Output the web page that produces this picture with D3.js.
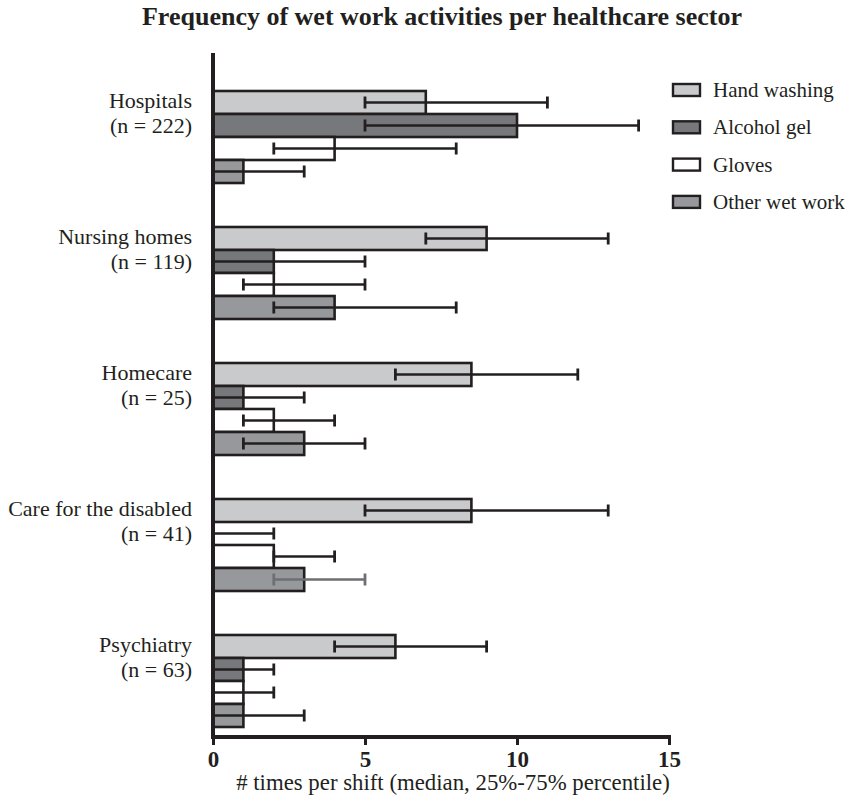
<!DOCTYPE html>
<html>
<head>
<meta charset="utf-8">
<script src="https://cdn.jsdelivr.net/npm/d3@7"></script>
<style>
  html, body { margin: 0; padding: 0; background: #fff; }
  svg { display: block; }
  text { font-family: "Liberation Serif", "Times New Roman", serif; fill: #231f20; }
</style>
</head>
<body>
<svg id="chart" width="851" height="801"></svg>
<script>
// Healthcare sectors and number of respondents
const sectors = ["Hospitals", "Nursing homes", "Homecare", "Care for the disabled", "Psychiatry"];
const respondents = [222, 119, 25, 41, 63];

// Wet work activities
const activities = ["Hand washing", "Alcohol gel", "Gloves", "Other wet work"];

// Median times per shift, with 25th and 75th percentiles (one entry per sector)
const handWashingMedian = [7, 9, 8.5, 8.5, 6];
const handWashingP25 = [5, 7, 6, 5, 4];
const handWashingP75 = [11, 13, 12, 13, 9];

const alcoholGelMedian = [10, 2, 1, 0, 1];
const alcoholGelP25 = [5, 0, 0, 0, 0];
const alcoholGelP75 = [14, 5, 3, 2, 2];

const glovesMedian = [4, 2, 2, 2, 1];
const glovesP25 = [2, 1, 1, 2, 0];
const glovesP75 = [8, 5, 4, 4, 2];

const otherMedian = [1, 4, 3, 3, 1];
const otherP25 = [0, 2, 1, 2, 0];
const otherP75 = [3, 8, 5, 5, 3];

const xTicks = [0, 5, 10, 15];

const fills = {
  "Hand washing": "#c9cacc",
  "Alcohol gel": "#77787b",
  "Gloves": "#ffffff",
  "Other wet work": "#97989b"
};
const ink = "#231f20";

const seriesValues = {
  "Hand washing": [handWashingMedian, handWashingP25, handWashingP75],
  "Alcohol gel": [alcoholGelMedian, alcoholGelP25, alcoholGelP75],
  "Gloves": [glovesMedian, glovesP25, glovesP75],
  "Other wet work": [otherMedian, otherP25, otherP75]
};

const rows = [];
sectors.forEach((s, i) => {
  activities.forEach(a => {
    const [m, lo, hi] = seriesValues[a];
    rows.push({ sector: s, activity: a, median: m[i], p25: lo[i], p75: hi[i] });
  });
});

const svg = d3.select("#chart");

const x = d3.scaleLinear().domain([0, 15]).range([213, 669]);
const y = d3.scaleBand().domain(sectors).range([69, 749])
  .paddingInner(0.3235).paddingOuter(0.1618);
const ySub = d3.scaleBand().domain(activities).range([0, y.bandwidth()]);

// Title
svg.append("text")
  .attr("x", 442).attr("y", 25)
  .attr("text-anchor", "middle")
  .attr("font-size", 26).attr("font-weight", "bold")
  .text("Frequency of wet work activities per healthcare sector");

// Bars
const groups = svg.append("g").selectAll("g")
  .data(sectors).join("g")
  .attr("transform", d => `translate(0,${y(d)})`);

groups.selectAll("rect")
  .data(s => rows.filter(r => r.sector === s && r.median > 0))
  .join("rect")
  .attr("x", x(0))
  .attr("y", d => ySub(d.activity))
  .attr("width", d => x(d.median) - x(0))
  .attr("height", ySub.bandwidth())
  .attr("fill", d => fills[d.activity])
  .attr("stroke", ink)
  .attr("stroke-width", 2.6);

// Interquartile whiskers
const capH = 12;
const whiskers = groups.selectAll("g.whisker")
  .data(s => rows.filter(r => r.sector === s))
  .join("g")
  .attr("class", "whisker")
  .attr("stroke", d => (d.sector === "Care for the disabled" && d.activity === "Other wet work") ? "#6e6f72" : ink)
  .attr("transform", d => `translate(0,${ySub(d.activity) + ySub.bandwidth() / 2})`);

whiskers.append("line")
  .attr("x1", d => x(d.p25)).attr("x2", d => x(d.p75))
  .attr("y1", 0).attr("y2", 0)
  .attr("stroke-width", 2.4);
whiskers.append("line")
  .attr("x1", d => x(d.p75)).attr("x2", d => x(d.p75))
  .attr("y1", -capH / 2).attr("y2", capH / 2)
  .attr("stroke-width", 2.8);
whiskers.filter(d => d.p25 > 0).append("line")
  .attr("x1", d => x(d.p25)).attr("x2", d => x(d.p25))
  .attr("y1", -capH / 2).attr("y2", capH / 2)
  .attr("stroke-width", 2.8);

// X axis
const xAxis = svg.append("g")
  .attr("transform", "translate(0,737)")
  .call(d3.axisBottom(x).tickValues(xTicks).tickSize(8).tickSizeOuter(0).tickPadding(4));
xAxis.select(".domain").attr("stroke", ink).attr("stroke-width", 4)
  .attr("d", `M${x(0) - 2},0H${x(15) + 2}`);
xAxis.selectAll(".tick line").attr("stroke", ink).attr("stroke-width", 3);
xAxis.selectAll(".tick text")
  .attr("font-family", "Liberation Serif, Times New Roman, serif")
  .attr("font-size", 23).attr("font-weight", "bold").attr("fill", ink)
  .attr("dy", "0.78em");

svg.append("text")
  .attr("x", 453).attr("y", 790)
  .attr("text-anchor", "middle")
  .attr("font-size", 22.8)
  .text("# times per shift (median, 25%-75% percentile)");

// Y axis line
svg.append("line")
  .attr("x1", x(0)).attr("x2", x(0))
  .attr("y1", 53).attr("y2", 739)
  .attr("stroke", ink).attr("stroke-width", 4);

// Sector labels
const labels = svg.append("g").selectAll("text")
  .data(sectors).join("text")
  .attr("x", 192)
  .attr("y", d => y(d) + 17)
  .attr("text-anchor", "end")
  .attr("font-size", 22);
labels.append("tspan").attr("x", 192).text(d => d);
labels.append("tspan").attr("x", 192).attr("dy", 25)
  .text((d, i) => `(n = ${respondents[i]})`);

// Legend
const legend = svg.append("g").selectAll("g")
  .data(activities).join("g")
  .attr("transform", (d, i) => `translate(673,${84 + i * 37.3})`);
legend.append("rect")
  .attr("width", 27).attr("height", 12)
  .attr("fill", d => fills[d])
  .attr("stroke", ink).attr("stroke-width", 2.4);
legend.append("text")
  .attr("x", 40).attr("y", 13)
  .attr("font-size", 21)
  .text(d => d);
</script>
</body>
</html>
